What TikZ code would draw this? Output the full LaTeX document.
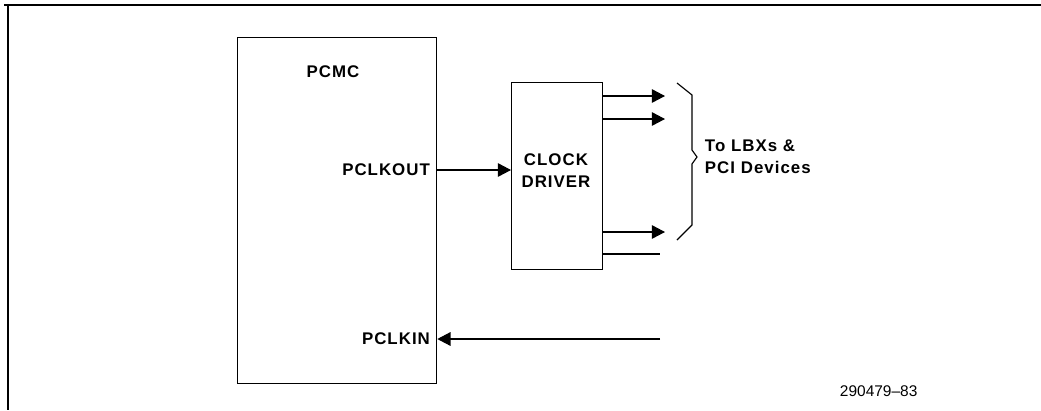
\documentclass[tikz,border=0pt]{standalone}
\usepackage{fontspec}
\setmainfont{Liberation Sans}
\usetikzlibrary{arrows.meta,positioning}

\begin{document}
\begin{tikzpicture}[
  x=0.025cm, y=-0.025cm,
  blockbox/.style={draw, line width=0.9pt, inner sep=0pt, anchor=north west},
  boldtext/.style={font=\bfseries\fontsize{12}{15.5}\selectfont\addfontfeatures{LetterSpace=6}},
  pinlabel/.style={boldtext, anchor=east, inner sep=2pt},
  arr/.style={-{Triangle[length=0.33cm, width=0.34cm]}, line width=0.8pt},
  wire/.style={line width=0.8pt},
]
\useasboundingbox (0,0) rectangle (1041,410);

% ===== Frame =====
\draw[wire] (4,5) -- (1041,5);
\draw[wire] (8,5) -- (8,410);

% ===== PCMC =====
\node[blockbox, minimum width=4.975cm, minimum height=8.65cm] (pcmc) at (237,37) {};
\node[boldtext] (pcmclabel) at (333,72) {PCMC};
\node[pinlabel] (pclkout) at (433,170) {PCLKOUT};
\node[pinlabel] (pclkin) at (433,339) {PCLKIN};

% ===== Clock driver =====
\node[blockbox, minimum width=2.275cm, minimum height=4.675cm] (driver) at (511,82) {};
\node[boldtext, align=center] (driverlabel) at (556,171) {CLOCK\\DRIVER};

\draw[arr] (pcmc.east |- pclkout) -- (driver.west |- pclkout);

% ===== Clock outputs =====
\coordinate (out1) at (665,96);
\coordinate (out2) at (665,119);
\coordinate (out3) at (665,232);
\coordinate (out4) at (660,254);
\draw[arr] (driver.east |- out1) -- (out1);
\draw[arr] (driver.east |- out2) -- (out2);
\draw[arr] (driver.east |- out3) -- (out3);
\draw[wire] (driver.east |- out4) -- (out4);

\coordinate (fback) at (660,339);
\draw[arr] (fback) -- (pcmc.east |- pclkin);

% ===== Brace and destination =====
\draw[wire] (677,83) -- (692,95) -- (692,150) -- (697,157) -- (692,164) -- (692,225) -- (677,240);
\node[boldtext, align=left, anchor=west] (dest) at (700,157) {To LBXs \&\\PCI Devices};

\node[anchor=west, font=\fontsize{11}{13}\selectfont] (fignum) at (835,391) {290479--83};

\end{tikzpicture}
\end{document}
